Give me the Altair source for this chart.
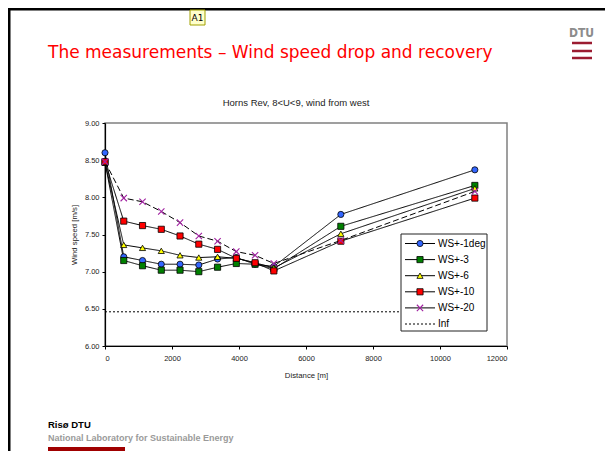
import altair as alt
import pandas as pd

# ---- data ----
distance = [0, 560, 1120, 1680, 2240, 2800, 3360, 3920, 4480, 5040, 7040, 11040]
ws_1deg = [8.60, 7.20, 7.15, 7.10, 7.10, 7.09, 7.17, 7.19, 7.10, 7.07, 7.77, 8.37]
ws_3 = [8.47, 7.15, 7.08, 7.02, 7.02, 7.00, 7.06, 7.11, 7.10, 7.04, 7.61, 8.16]
ws_6 = [8.47, 7.36, 7.32, 7.28, 7.22, 7.19, 7.20, 7.18, 7.12, 7.05, 7.51, 8.12]
ws_10 = [8.48, 7.68, 7.62, 7.57, 7.48, 7.37, 7.30, 7.18, 7.12, 7.01, 7.41, 7.99]
ws_20 = [8.48, 7.99, 7.94, 7.81, 7.66, 7.48, 7.41, 7.27, 7.22, 7.11, 7.42, 8.08]
inf_distance = [0, 11040]
inf_speed = [6.46, 6.46]

series_names = ["WS+-1deg", "WS+-3", "WS+-6", "WS+-10", "WS+-20"]
series_values = [ws_1deg, ws_3, ws_6, ws_10, ws_20]
legend_names = series_names + ["Inf"]

x_ticks = [0, 2000, 4000, 6000, 8000, 10000, 12000]
y_ticks = [6.0, 6.5, 7.0, 7.5, 8.0, 8.5, 9.0]

X_PATH = "M-1,-1L1,1M-1,1L1,-1"
filled_names = series_names[:4]
filled_shapes = ["circle", "square", "triangle-up", "square"]
filled_colors = ["#3366FF", "#008000", "#FFFF00", "#FF0000"]
x_color = "#A020A0"

rows = []
for name, vals in zip(series_names, series_values):
    for d, v in zip(distance, vals):
        rows.append({"series": name, "distance": d, "speed": v})
df = pd.DataFrame(rows)
inf_df = pd.DataFrame({"distance": inf_distance, "speed": inf_speed})

W, H = 402, 223
FONT = "Liberation Sans"

xs = alt.Scale(domain=[0, 12000], nice=False, zero=False)
ys = alt.Scale(domain=[6, 9], nice=False, zero=False)

x_enc = alt.X("distance:Q", scale=xs, axis=alt.Axis(
    values=x_ticks, format="d", title="Distance [m]", grid=False,
    tickSize=3, labelPadding=5, titlePadding=10))
y_enc = alt.Y("speed:Q", scale=ys, axis=alt.Axis(
    values=y_ticks, format=".2f", title="Wind speed [m/s]", grid=False,
    tickSize=3, labelPadding=3, titlePadding=6))

inf_layer = alt.Chart(inf_df).mark_line(color="black", strokeWidth=1, strokeDash=[2, 2]).encode(
    x=x_enc, y=y_enc)

lines = alt.Chart(df).mark_line(color="black", strokeWidth=1).encode(
    x=x_enc, y=y_enc, detail="series:N",
    strokeDash=alt.StrokeDash("series:N", scale=alt.Scale(
        domain=series_names, range=[[1, 0], [1, 0], [1, 0], [1, 0], [6, 3]]), legend=None))

pts = alt.Chart(df).transform_filter(
    alt.FieldOneOfPredicate(field="series", oneOf=filled_names)
).mark_point(filled=True, stroke="black", strokeWidth=0.8, size=38, opacity=1).encode(
    x=x_enc, y=y_enc,
    shape=alt.Shape("series:N", scale=alt.Scale(domain=filled_names, range=filled_shapes), legend=None),
    fill=alt.Fill("series:N", scale=alt.Scale(domain=filled_names, range=filled_colors), legend=None))

xpts = alt.Chart(df).transform_filter(
    alt.FieldEqualPredicate(field="series", equal="WS+-20")
).mark_point(shape=X_PATH, filled=False, stroke=x_color, strokeWidth=1.1, size=40, opacity=1).encode(
    x=x_enc, y=y_enc)

# ---- legend (custom, inside plot) ----
leg_df = pd.DataFrame({"name": legend_names, "i": list(range(len(legend_names)))})
leg_df["ly"] = 120.5 + 16.1 * leg_df["i"]

leg_box = alt.Chart(pd.DataFrame({"k": [0]})).mark_rect(
    fill="white", stroke="#222", strokeWidth=1).encode(
    x=alt.value(296), x2=alt.value(382), y=alt.value(111), y2=alt.value(208))
leg_lines = alt.Chart(leg_df).transform_filter(
    alt.FieldOneOfPredicate(field="name", oneOf=series_names)
).mark_rule(color="black", strokeWidth=1).encode(
    x=alt.value(300), x2=alt.value(330), y=alt.Y("ly:Q", scale=None))
leg_inf = alt.Chart(leg_df).transform_filter(
    alt.FieldEqualPredicate(field="name", equal="Inf")
).mark_rule(color="black", strokeWidth=1, strokeDash=[2, 2]).encode(
    x=alt.value(300), x2=alt.value(330), y=alt.Y("ly:Q", scale=None))
leg_pts = alt.Chart(leg_df).transform_filter(
    alt.FieldOneOfPredicate(field="name", oneOf=filled_names)
).mark_point(filled=True, stroke="black", strokeWidth=0.8, size=38, opacity=1).encode(
    x=alt.value(315), y=alt.Y("ly:Q", scale=None),
    shape=alt.Shape("name:N", scale=alt.Scale(domain=filled_names, range=filled_shapes), legend=None),
    fill=alt.Fill("name:N", scale=alt.Scale(domain=filled_names, range=filled_colors), legend=None))
leg_x = alt.Chart(leg_df).transform_filter(
    alt.FieldEqualPredicate(field="name", equal="WS+-20")
).mark_point(shape=X_PATH, filled=False, stroke=x_color, strokeWidth=1.1, size=40, opacity=1).encode(
    x=alt.value(315), y=alt.Y("ly:Q", scale=None))
leg_text = alt.Chart(leg_df).mark_text(align="left", baseline="middle", font=FONT, fontSize=10, color="black").encode(
    x=alt.value(333), y=alt.Y("ly:Q", scale=None), text="name:N")

# ---- slide decorations ----
one = pd.DataFrame({"k": [0]})
frame_left = alt.Chart(one).mark_rule(color="black", strokeWidth=3).encode(
    x=alt.value(-96), y=alt.value(-115), y2=alt.value(330))
frame_top = alt.Chart(one).mark_rule(color="black", strokeWidth=3).encode(
    x=alt.value(-97), x2=alt.value(500), y=alt.value(-114))
slide_title = alt.Chart(one).mark_text(
    text="The measurements \u2013 Wind speed drop and recovery", align="left", baseline="alphabetic",
    font="DejaVu Sans", fontSize=17, color="#FF0000").encode(x=alt.value(-57), y=alt.value(-65))
a1_box = alt.Chart(one).mark_rect(fill="#FFFFCC", stroke="#A0A000", strokeWidth=1).encode(
    x=alt.value(85), x2=alt.value(100), y=alt.value(-113), y2=alt.value(-98))
a1_text = alt.Chart(one).mark_text(text="A1", align="center", baseline="middle", font="DejaVu Sans",
                                   fontSize=9, color="black").encode(x=alt.value(92.5), y=alt.value(-105))
dtu_text = alt.Chart(one).mark_text(text="DTU", align="center", baseline="alphabetic",
                                    font="DejaVu Sans Condensed", fontSize=12, fontWeight="bold",
                                    color="#8C8C8C").encode(x=alt.value(476.5), y=alt.value(-86))
dtu_bars = alt.Chart(pd.DataFrame({"by": [-80, -72, -65]})).mark_rule(color="#9B1B30", strokeWidth=2.5).encode(
    x=alt.value(467), x2=alt.value(487), y=alt.Y("by:Q", scale=None))
chart_title = alt.Chart(one).mark_text(text="Horns Rev, 8<U<9, wind from west", align="center",
                                       baseline="middle", font=FONT, fontSize=9.5, color="#222").encode(
    x=alt.value(191), y=alt.value(-20))
foot1 = alt.Chart(one).mark_text(text="Ris\u00f8 DTU", align="left", baseline="alphabetic", font=FONT,
                                 fontSize=9.5, fontWeight="bold", color="black").encode(
    x=alt.value(-57), y=alt.value(305))
foot2 = alt.Chart(one).mark_text(text="National Laboratory for Sustainable Energy", align="left",
                                 baseline="alphabetic", font=FONT, fontSize=9, fontWeight="bold",
                                 color="#9A9A9A").encode(x=alt.value(-57), y=alt.value(318))
foot_bar = alt.Chart(one).mark_rule(color="#A00000", strokeWidth=4).encode(
    x=alt.value(-57), x2=alt.value(20), y=alt.value(326))

chart = alt.layer(
    inf_layer, lines, pts, xpts,
    leg_box, leg_lines, leg_inf, leg_pts, leg_x, leg_text,
    frame_left, frame_top, slide_title, a1_box, a1_text, dtu_text, dtu_bars,
    chart_title, foot1, foot2, foot_bar,
).properties(
    width=W, height=H,
    autosize=alt.AutoSizeParams(type="none"),
    padding={"left": 97, "top": 115, "right": 98, "bottom": 105},
    background="white",
).configure_view(
    stroke="#808080", strokeWidth=1.5
).configure_axis(
    labelFont=FONT, titleFont=FONT, labelFontSize=7.5, titleFontSize=7.8,
    labelColor="#222", titleColor="#222", titleFontWeight="normal",
    domainColor="black", domainWidth=1.2, tickColor="black", tickWidth=1,
)

chart.save("out.html", embed_options={"renderer": "svg", "actions": False})
